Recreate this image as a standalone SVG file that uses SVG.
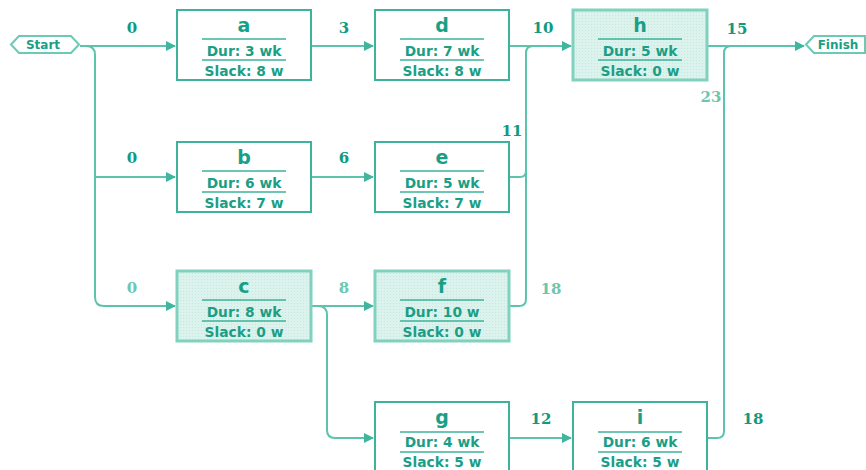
<svg xmlns="http://www.w3.org/2000/svg" width="866" height="470" viewBox="0 0 866 470">
<defs>
<style>
.box{fill:#fff;stroke:#3db39b;stroke-width:2}
.crit{fill:#d8f0e9;stroke:#80d2bf;stroke-width:3}
.div{stroke:#3db39b;stroke-width:1.5}
.t{font-family:"DejaVu Sans",Verdana,sans-serif;font-weight:bold;fill:#1a9f86;text-anchor:middle}
.big{font-size:19px}
.sm{font-size:13.8px}
.conn{fill:none;stroke:#5cc4ad;stroke-width:2}
.num{font-family:"DejaVu Serif","Liberation Serif",serif;font-weight:bold;font-size:15px;text-anchor:middle}
.dk{fill:#109a80}
.lt{fill:#6cc7b0}
.term{fill:#fff;stroke:#6ccab4;stroke-width:2}
</style>
<marker id="ar" markerWidth="10" markerHeight="10" refX="9" refY="5" orient="auto" markerUnits="userSpaceOnUse">
<path d="M0,0 L10,5 L0,10 Z" fill="#3fb69d"/>
</marker>
<pattern id="dots" width="3" height="3" patternUnits="userSpaceOnUse">
<rect width="3" height="3" fill="#dcf2ec"/>
<rect width="1" height="1" fill="#c4e8de"/>
</pattern>
</defs>

<g id="connectors">
<path class="conn" d="M80,46 H175" marker-end="url(#ar)"/>
<path class="conn" d="M86,46 Q95,46 95,55 V297 Q95,306 104,306 H175" marker-end="url(#ar)"/>
<path class="conn" d="M95,177 H175" marker-end="url(#ar)"/>
<path class="conn" d="M311,46 H373" marker-end="url(#ar)"/>
<path class="conn" d="M509,46 H571" marker-end="url(#ar)"/>
<path class="conn" d="M311,177 H373" marker-end="url(#ar)"/>
<path class="conn" d="M509,177 H520 Q526,177 526,171"/>
<path class="conn" d="M509,306 H519 Q526,306 526,299 V53 Q526,46 533,46"/>
<path class="conn" d="M311,306 H373" marker-end="url(#ar)"/>
<path class="conn" d="M318,306 Q327,306 327,315 V430 Q327,438 335,438 H373" marker-end="url(#ar)"/>
<path class="conn" d="M509,438 H571" marker-end="url(#ar)"/>
<path class="conn" d="M707,46 H804" marker-end="url(#ar)"/>
<path class="conn" d="M707,438 H717 Q724,438 724,431 V53 Q724,46 731,46"/>
<text class="num dk" x="132" y="33">0</text>
<text class="num dk" x="344" y="33">3</text>
<text class="num dk" x="543" y="33">10</text>
<text class="num dk" x="737" y="34">15</text>
<text class="num lt" x="711" y="102">23</text>
<text class="num dk" x="132" y="163">0</text>
<text class="num dk" x="344" y="163">6</text>
<text class="num dk" x="512" y="136">11</text>
<text class="num lt" x="132" y="293">0</text>
<text class="num lt" x="344" y="293">8</text>
<text class="num lt" x="551" y="294">18</text>
<text class="num dk" x="541" y="424">12</text>
<text class="num dk" x="753" y="424">18</text>
</g>

<g id="start">
<path class="term" d="M11,44.5 L19,36 H71 L79,44.5 L71,53 H19 Z"/>
<text class="t" x="43" y="49" font-size="12">Start</text>
</g>
<g id="finish">
<path class="term" d="M806,44.5 L814,36 H865 V53 H814 Z"/>
<text class="t" x="838" y="49" font-size="12">Finish</text>
</g>

<g id="node-a">
<rect class="box" x="177" y="10" width="134" height="70"/>
<text class="t big" x="244" y="32">a</text>
<line class="div" x1="202" y1="39" x2="286" y2="39"/>
<text class="t sm" x="244" y="56">Dur: 3 wk</text>
<line class="div" x1="202" y1="60" x2="286" y2="60"/>
<text class="t sm" x="244" y="76">Slack: 8 w</text>
</g>
<g id="node-d">
<rect class="box" x="375" y="10" width="134" height="70"/>
<text class="t big" x="442" y="32">d</text>
<line class="div" x1="400" y1="39" x2="484" y2="39"/>
<text class="t sm" x="442" y="56">Dur: 7 wk</text>
<line class="div" x1="400" y1="60" x2="484" y2="60"/>
<text class="t sm" x="442" y="76">Slack: 8 w</text>
</g>
<g id="node-h">
<rect class="crit" x="573" y="10" width="134" height="70" style="fill:url(#dots)"/>
<text class="t big" x="640" y="32">h</text>
<line class="div" x1="598" y1="39" x2="682" y2="39"/>
<text class="t sm" x="640" y="56">Dur: 5 wk</text>
<line class="div" x1="598" y1="60" x2="682" y2="60"/>
<text class="t sm" x="640" y="76">Slack: 0 w</text>
</g>
<g id="node-b">
<rect class="box" x="177" y="142" width="134" height="70"/>
<text class="t big" x="244" y="164">b</text>
<line class="div" x1="202" y1="171" x2="286" y2="171"/>
<text class="t sm" x="244" y="188">Dur: 6 wk</text>
<line class="div" x1="202" y1="192" x2="286" y2="192"/>
<text class="t sm" x="244" y="208">Slack: 7 w</text>
</g>
<g id="node-e">
<rect class="box" x="375" y="142" width="134" height="70"/>
<text class="t big" x="442" y="164">e</text>
<line class="div" x1="400" y1="171" x2="484" y2="171"/>
<text class="t sm" x="442" y="188">Dur: 5 wk</text>
<line class="div" x1="400" y1="192" x2="484" y2="192"/>
<text class="t sm" x="442" y="208">Slack: 7 w</text>
</g>
<g id="node-c">
<rect class="crit" x="177" y="271" width="134" height="70" style="fill:url(#dots)"/>
<text class="t big" x="244" y="293">c</text>
<line class="div" x1="202" y1="300" x2="286" y2="300"/>
<text class="t sm" x="244" y="317">Dur: 8 wk</text>
<line class="div" x1="202" y1="321" x2="286" y2="321"/>
<text class="t sm" x="244" y="337">Slack: 0 w</text>
</g>
<g id="node-f">
<rect class="crit" x="375" y="271" width="134" height="70" style="fill:url(#dots)"/>
<text class="t big" x="442" y="293">f</text>
<line class="div" x1="400" y1="300" x2="484" y2="300"/>
<text class="t sm" x="442" y="317">Dur: 10 w</text>
<line class="div" x1="400" y1="321" x2="484" y2="321"/>
<text class="t sm" x="442" y="337">Slack: 0 w</text>
</g>
<g id="node-g">
<rect class="box" x="375" y="402" width="134" height="70"/>
<text class="t big" x="442" y="424">g</text>
<line class="div" x1="400" y1="432" x2="484" y2="432"/>
<text class="t sm" x="442" y="447">Dur: 4 wk</text>
<line class="div" x1="400" y1="452" x2="484" y2="452"/>
<text class="t sm" x="442" y="467">Slack: 5 w</text>
</g>
<g id="node-i">
<rect class="box" x="573" y="402" width="134" height="70"/>
<text class="t big" x="640" y="424">i</text>
<line class="div" x1="598" y1="432" x2="682" y2="432"/>
<text class="t sm" x="640" y="447">Dur: 6 wk</text>
<line class="div" x1="598" y1="452" x2="682" y2="452"/>
<text class="t sm" x="640" y="467">Slack: 5 w</text>
</g>
</svg>
